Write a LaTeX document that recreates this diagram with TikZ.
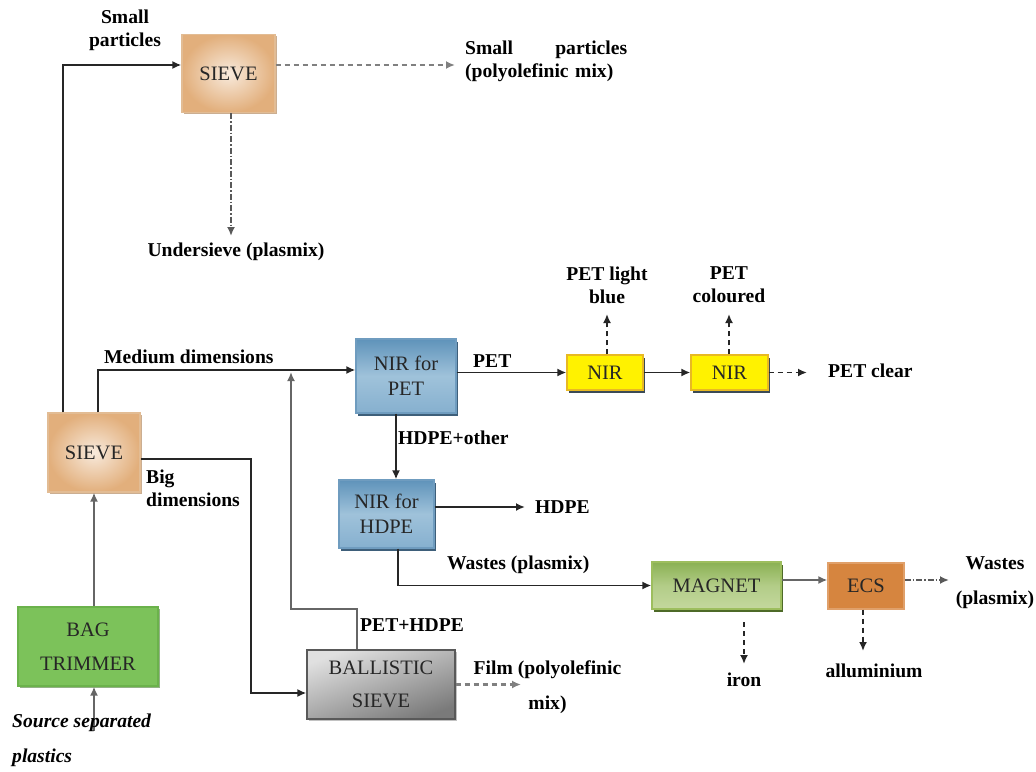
\documentclass[tikz,border=0pt]{standalone}
\usepackage{fontspec}
\setmainfont{Liberation Serif}
\usetikzlibrary{arrows.meta,shadows}

\definecolor{tanedge}{HTML}{E2AF7C}
\definecolor{tanlight}{HTML}{F8EADC}
\definecolor{tanline}{HTML}{E2BC94}
\definecolor{bluetop}{HTML}{5F93BA}
\definecolor{bluemid}{HTML}{9FC2DA}
\definecolor{bluebot}{HTML}{86B0CF}
\definecolor{blueline}{HTML}{6F9CBF}
\definecolor{blueshadow}{HTML}{3E5F7A}
\definecolor{yelline}{HTML}{E8B923}
\definecolor{darkshadow}{HTML}{3B4A55}
\definecolor{magtop}{HTML}{8AB153}
\definecolor{magbot}{HTML}{C4D89E}
\definecolor{magline}{HTML}{9DBE5E}
\definecolor{magshadow}{HTML}{4E6A28}
\definecolor{ecsfill}{HTML}{D6853F}
\definecolor{ecsline}{HTML}{E0A06A}
\definecolor{bagfill}{HTML}{7CC25A}
\definecolor{bagline}{HTML}{6BB24B}

\tikzset{
  lbl/.style={font=\fontsize{19.6}{23}\selectfont\bfseries, inner sep=0pt},
  box/.style={draw, line width=1.2pt, inner sep=0pt, align=center,
    font=\fontsize{20.5}{24.5}\selectfont, text=black!85},
  tanbox/.style={box, draw=tanline, shading=radial, inner color=tanlight, outer color=tanedge,
    drop shadow={shadow xshift=1.5pt, shadow yshift=-1.5pt, fill=tanedge!80!black, opacity=0.7}},
  bluebox/.style={box, draw=blueline, top color=bluetop, bottom color=bluebot, middle color=bluemid,
    drop shadow={shadow xshift=2pt, shadow yshift=-3pt, fill=blueshadow, opacity=1}},
  yelbox/.style={box, draw=yelline, fill=yellow,
    drop shadow={shadow xshift=2pt, shadow yshift=-3pt, fill=darkshadow, opacity=1}},
  magbox/.style={box, draw=magline, top color=magtop, bottom color=magbot, middle color=magbot!70!magtop,
    drop shadow={shadow xshift=2pt, shadow yshift=-3pt, fill=magshadow, opacity=1}},
  tip/.style={-{Latex[length=9pt,width=8pt]}},
  flow/.style={tip, line width=1.9pt, draw=black!85},
  gflow/.style={tip, line width=2.4pt, draw=black!60},
  dflow/.style={tip, line width=1.8pt, draw=black!85, dash pattern=on 5pt off 4pt},
  gdflow/.style={tip, line width=2.2pt, draw=black!50, dash pattern=on 5pt off 4pt},
  ddflow/.style={tip, line width=2pt, draw=black!65, dash pattern=on 6pt off 2pt on 1.5pt off 2pt},
}

\begin{document}
\begin{tikzpicture}[x=1pt,y=-1pt]
\useasboundingbox (0,0) rectangle (1036,771);

% process units
\node[tanbox, minimum width=93pt, minimum height=78pt] (sievetop) at (228.5,73.5) {SIEVE};
\node[tanbox, minimum width=92pt, minimum height=79pt] (sievemain) at (94,452.5) {SIEVE};
\node[box, draw=bagline, fill=bagfill, minimum width=140pt, minimum height=79pt,
  drop shadow={shadow xshift=1.5pt, shadow yshift=-1.5pt, fill=bagline!70!black, opacity=0.6}]
  (bag) at (88,646.5) {BAG\\[9pt]TRIMMER};
\node[bluebox, minimum width=100pt, minimum height=74pt] (nirpet) at (406,376) {NIR for\\PET};
\node[bluebox, minimum width=95pt, minimum height=68pt] (nirhdpe) at (386.5,514) {NIR for\\HDPE};
\node[box, draw=black!65, top color=black!12, bottom color=black!52, shading angle=20,
  minimum width=148pt, minimum height=69pt,
  drop shadow={shadow xshift=1.5pt, shadow yshift=-1.5pt, fill=black!40, opacity=0.6}]
  (ballistic) at (381,684.5) {BALLISTIC\\[9pt]SIEVE};
\node[yelbox, minimum width=76pt, minimum height=35pt] (nirone) at (605,372.5) {NIR};
\node[yelbox, minimum width=77pt, minimum height=35pt] (nirtwo) at (729.5,372.5) {NIR};
\node[magbox, minimum width=129pt, minimum height=47pt] (magnet) at (716.5,585.5) {MAGNET};
\node[box, draw=ecsline, fill=ecsfill, minimum width=76pt, minimum height=46pt] (ecs) at (866,586) {ECS};

% turning points and free ends
\coordinate (smallturn) at (63,65);
\coordinate (medturn) at (98,370);
\coordinate (bigturn) at (251,459);
\coordinate (bigin) at (251,693);
\coordinate (pethdpeturn) at (291,609);
\coordinate (merge) at (291,372);
\coordinate (srcend) at (94,731);
\coordinate (smallend) at (455,65);
\coordinate (underend) at (231,236);
\coordinate (hdpeend) at (525,507);
\coordinate (filmend) at (521,684.5);
\coordinate (lbend) at (607,314);
\coordinate (colend) at (729,314);
\coordinate (clearend) at (807,372.5);
\coordinate (ironstart) at (744,622);
\coordinate (ironend) at (744,664);
\coordinate (alend) at (863,651);
\coordinate (wasteend) at (949,580);

% connectors
\draw[gflow] (srcend) -- (bag.south -| srcend);
\draw[gflow] (bag.north -| sievemain.south) -- (sievemain.south);
\draw[flow] (sievemain.north -| smallturn) -- (smallturn) -- (sievetop.west |- smallturn);
\draw[flow] (sievemain.north -| medturn) -- (medturn) -- (nirpet.west |- medturn);
\draw[flow] (sievemain.east |- bigturn) -- (bigturn) -- (bigin) -- (ballistic.west |- bigin);
\draw[gflow] (ballistic.north -| 357,0) |- (pethdpeturn) -- (merge);
\draw[gdflow] (sievetop.east |- smallend) -- (smallend);
\draw[ddflow] (sievetop.south -| underend) -- (underend);
\draw[flow] (nirone.west -| nirpet.east) -- (nirone.west);
\draw[flow] (nirpet.south -| 396,0) -- (nirhdpe.north -| 396,0);
\draw[flow] (nirhdpe.east |- hdpeend) -- (hdpeend);
\draw[flow] (nirhdpe.south -| 398,0) |- (magnet.west);
\draw[gdflow] (ballistic.east) -- (filmend);
\draw[flow] (nirone.east) -- (nirtwo.west);
\draw[dflow] (nirone.north -| lbend) -- (lbend);
\draw[dflow] (nirtwo.north -| colend) -- (colend);
\draw[dflow] (nirtwo.east) -- (clearend);
\draw[gflow] (magnet.east |- wasteend) -- (ecs.west |- wasteend);
\draw[dflow] (ironstart) -- (ironend);
\draw[dflow] (ecs.south -| alend) -- (alend);
\draw[ddflow] (ecs.east |- wasteend) -- (wasteend);

% stream labels
\node[lbl, align=center] (lsmall) at (125,30) {Small\\particles};
\node[lbl, align=left, text width=162pt, anchor=west] (lsmallmix) at (465,61.5)
  {Small\hfill particles\\(polyolefinic mix)};
\node[lbl] (lunder) at (236,252) {Undersieve (plasmix)};
\node[lbl, anchor=west] (lmedium) at (104,357) {Medium dimensions};
\node[lbl, align=left, anchor=west] (lbig) at (146,488.5) {Big\\dimensions};
\node[lbl, align=left, anchor=west, font=\fontsize{19.6}{23}\selectfont\bfseries\itshape]
  (lsource) at (12,740) {Source separated\\[12pt]plastics};
\node[lbl, anchor=west] (lpet) at (473,361) {PET};
\node[lbl, anchor=west] (lhdpeother) at (398,438) {HDPE+other};
\node[lbl, anchor=west] (lhdpe) at (535,507) {HDPE};
\node[lbl, anchor=west] (lwastes) at (447,565) {Wastes (plasmix)};
\node[lbl, anchor=west] (lpethdpe) at (360,625) {PET+HDPE};
\node[lbl, align=center] (lfilm) at (547.5,687.5) {Film (polyolefinic\\[12pt]mix)};
\node[lbl, align=center] (llightblue) at (607,285) {PET light\\blue};
\node[lbl, align=center] (lcoloured) at (729,285) {PET\\coloured};
\node[lbl, anchor=west] (lclear) at (828,371) {PET clear};
\node[lbl, align=center] (lwastesend) at (995,582.5) {Wastes\\[12pt](plasmix)};
\node[lbl] (liron) at (744,680) {iron};
\node[lbl] (lalu) at (874,671) {alluminium};
\end{tikzpicture}
\end{document}
